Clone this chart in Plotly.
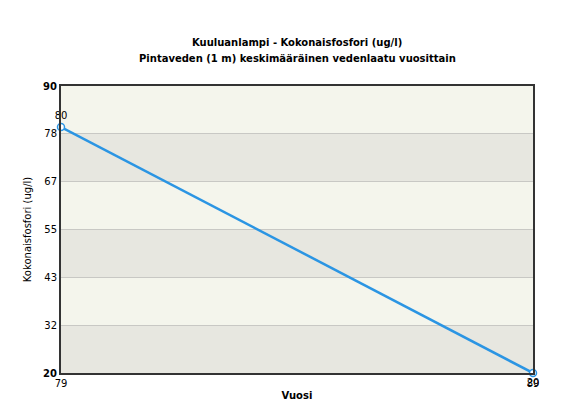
import plotly.graph_objects as go

years = [79, 89]
values = [80, 20]
y_ticks = [20, 32, 43, 55, 67, 78, 90]
y_tick_vals = [20 + i * 70 / 6 for i in range(7)]
x_ticks = [79, 89]

title1 = "Kuuluanlampi - Kokonaisfosfori (ug/l)"
title2 = "Pintaveden (1 m) keskimääräinen vedenlaatu vuosittain"

fig = go.Figure()

# alternating bands
light = "#f4f5ec"
dark = "#e7e7e0"
shapes = []
for i in range(6):
    y0 = y_tick_vals[i]
    y1 = y_tick_vals[i + 1]
    shapes.append(dict(type="rect", xref="paper", yref="y", x0=0, x1=1, y0=y0, y1=y1,
                       fillcolor=dark if i % 2 == 0 else light, line_width=0, layer="below"))

fig.add_trace(go.Scatter(
    x=years, y=values, mode="lines+markers+text",
    text=[str(v) for v in values],
    textposition=["top center", "bottom center"],
    textfont=dict(family="DejaVu Sans", size=10, color="#000"),
    line=dict(color="#2b95e3", width=2.5),
    marker=dict(symbol="circle", size=7, color="white", line=dict(color="#2b95e3", width=1.5)),
    cliponaxis=False,
    showlegend=False,
))

fig.update_layout(
    width=574, height=406,
    margin=dict(l=53, r=49, t=78, b=41),
    paper_bgcolor="white", plot_bgcolor=light,
    shapes=shapes,
    font=dict(family="DejaVu Sans", size=10, color="#000"),
    annotations=[
        dict(text="<b>" + title1 + "</b>", xref="paper", yref="paper", x=0.5, y=1, yshift=44,
             showarrow=False, font=dict(size=10), xanchor="center", yanchor="middle"),
        dict(text="<b>" + title2 + "</b>", xref="paper", yref="paper", x=0.5, y=1, yshift=28,
             showarrow=False, font=dict(size=10), xanchor="center", yanchor="middle"),
    ],
    xaxis=dict(
        range=[79, 89], tickvals=x_ticks, ticktext=[str(t) for t in x_ticks],
        showgrid=False, zeroline=False, showline=True, linecolor="#333", linewidth=2,
        mirror=True, ticks="", ticklen=0,
        title=dict(text="<b>Vuosi</b>", font=dict(size=10), standoff=4),
        tickfont=dict(size=10),
    ),
    yaxis=dict(
        range=[20, 90], tickvals=y_tick_vals,
        ticktext=["<b>%d</b>" % y_ticks[0]] + [str(t) for t in y_ticks[1:-1]] + ["<b>%d</b>" % y_ticks[-1]],
        showgrid=True, gridcolor="#c8c8c4", gridwidth=1,
        zeroline=False, showline=True, linecolor="#333", linewidth=2, mirror=True,
        ticks="", title=dict(text="Kokonaisfosfori (ug/l)", font=dict(size=10), standoff=10),
        tickfont=dict(size=10),
    ),
)

fig.write_html("out.html")
